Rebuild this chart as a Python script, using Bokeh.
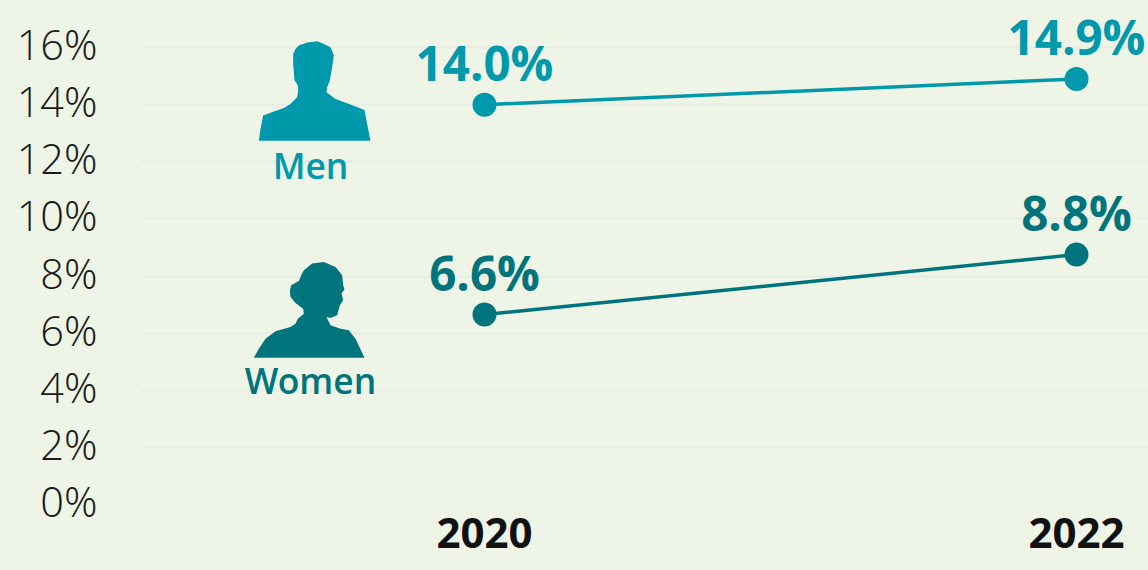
from bokeh.plotting import figure
from bokeh.models import Range1d, FixedTicker, ColumnDataSource, LinearAxis
from bokeh.core.properties import value
from bokeh.embed import file_html
from bokeh.resources import INLINE

years = [2020, 2022]
men = [14.0, 14.9]
women = [6.65, 8.75]
men_labels = ["14.0%", "14.9%"]
women_labels = ["6.6%", "8.8%"]
y_ticks = [0, 2, 4, 6, 8, 10, 12, 14, 16]
BG = "#eef4e6"
MEN = "#0098ab"
WOMEN = "#00747c"
GRID = "#e6ebe3"

W, H = 1148, 570
LEFT, RIGHT = 141, 1148
TOP, BOTTOM = 0, 503.5
XPX = 296.0  # px per year
YPX = 28.53  # px per percent
xr = Range1d(2020 - (484 - LEFT) / XPX, 2022 + (RIGHT - 1076) / XPX)
yr = Range1d(0, (BOTTOM - TOP) / YPX)

p = figure(width=W, height=H, x_range=xr, y_range=yr, output_backend="svg", toolbar_location=None,
           min_border_left=LEFT, min_border_right=0, min_border_top=0, min_border_bottom=int(H - BOTTOM))
p.background_fill_color = BG
p.border_fill_color = BG
p.outline_line_color = None

p.xaxis.ticker = FixedTicker(ticks=years)
p.xaxis.axis_line_color = None
p.xaxis.major_tick_line_color = None
p.xaxis.minor_tick_line_color = None
p.xaxis.major_label_text_font = "Open Sans"
p.xaxis.major_label_text_font_style = "bold"
p.xaxis.major_label_text_font_size = "42px"
p.xaxis.major_label_text_color = "#111111"
p.xaxis.major_label_standoff = 7

# Tick labels sit about 3.5px above their gridlines: the axis reads a range shifted by that much
LABEL_SHIFT = 3.5 / YPX
p.extra_y_ranges = {"labels": Range1d(yr.start - LABEL_SHIFT, yr.end - LABEL_SHIFT)}
p.yaxis.visible = False
ax = LinearAxis(y_range_name="labels", ticker=FixedTicker(ticks=y_ticks))
ax.major_label_overrides = {t: f"{t}%" for t in y_ticks}
ax.axis_line_color = None
ax.major_tick_line_color = None
ax.minor_tick_line_color = None
ax.major_label_text_font = "Open Sans Light"
ax.major_label_text_font_size = "41.5px"
ax.major_label_text_color = "#1a1a1a"
ax.major_label_standoff = 38
p.add_layout(ax, "left")

p.xgrid.visible = False
p.ygrid.ticker = FixedTicker(ticks=y_ticks)
p.ygrid.grid_line_color = GRID
p.ygrid.grid_line_width = 2


def px_x(v):
    return xr.start + (v - LEFT) / XPX


def px_y(v):
    return (BOTTOM - v) / YPX


# Silhouette outlines, in page pixels
man_px = [(55, 330), (60, 295), (68, 255), (100, 243), (130, 232), (150, 220), (170, 200), (173, 180), (172, 165),
          (162, 148), (160, 125), (158, 100), (158, 70), (165, 55), (175, 45), (200, 36), (230, 32), (245, 38),
          (270, 50), (280, 75), (275, 110), (268, 150), (260, 170), (258, 185), (285, 205), (330, 222), (372, 238),
          (380, 280), (390, 330)]
woman_px = [(40, 322), (55, 295), (75, 265), (105, 243), (150, 230), (165, 220), (172, 205), (190, 190), (188, 175),
            (165, 158), (150, 140), (148, 122), (152, 105), (175, 92), (182, 75), (190, 60), (215, 40), (250, 35),
            (285, 50), (305, 75), (308, 105), (312, 118), (303, 130), (308, 150), (298, 165), (290, 195), (270, 203),
            (258, 200), (270, 225), (300, 235), (325, 240), (345, 265), (372, 322)]
p.patch([px_x(240 + a / 3) for a, b in man_px], [px_y(30 + b / 3) for a, b in man_px], color=MEN, line_width=0)
p.patch([px_x(240 + a / 3) for a, b in woman_px], [px_y(249.5 + b / 3) for a, b in woman_px], color=WOMEN, line_width=0)

LABEL_LIFT = 42.5 / YPX
for vals, labels, col in [(men, men_labels, MEN), (women, women_labels, WOMEN)]:
    src = ColumnDataSource(dict(x=years, y=vals, t=labels, ly=[v + LABEL_LIFT for v in vals]))
    p.line("x", "y", source=src, line_color=col, line_width=3.5)
    p.scatter("x", "y", source=src, size=24, fill_color=col, line_color=None)
    p.text("x", "ly", text="t", source=src, text_color=col, text_font=value("Open Sans"), text_font_style="bold",
           text_font_size="47.5px", text_align="center", text_baseline="alphabetic")

p.text([px_x(310)], [px_y(164)], text=["Men"], text_color=MEN, text_font=value("Open Sans SemiBold"),
       text_font_size="35.5px", text_align="center", text_baseline="alphabetic")
p.text([px_x(310)], [px_y(379)], text=["Women"], text_color=WOMEN, text_font=value("Open Sans SemiBold"),
       text_font_size="35.5px", text_align="center", text_baseline="alphabetic")

html = file_html(p, INLINE)
html = html.replace("<head>", f"<head><style>html,body{{margin:0;padding:0;background:{BG};overflow:hidden}}</style>", 1)
open("out.html", "w").write(html)
